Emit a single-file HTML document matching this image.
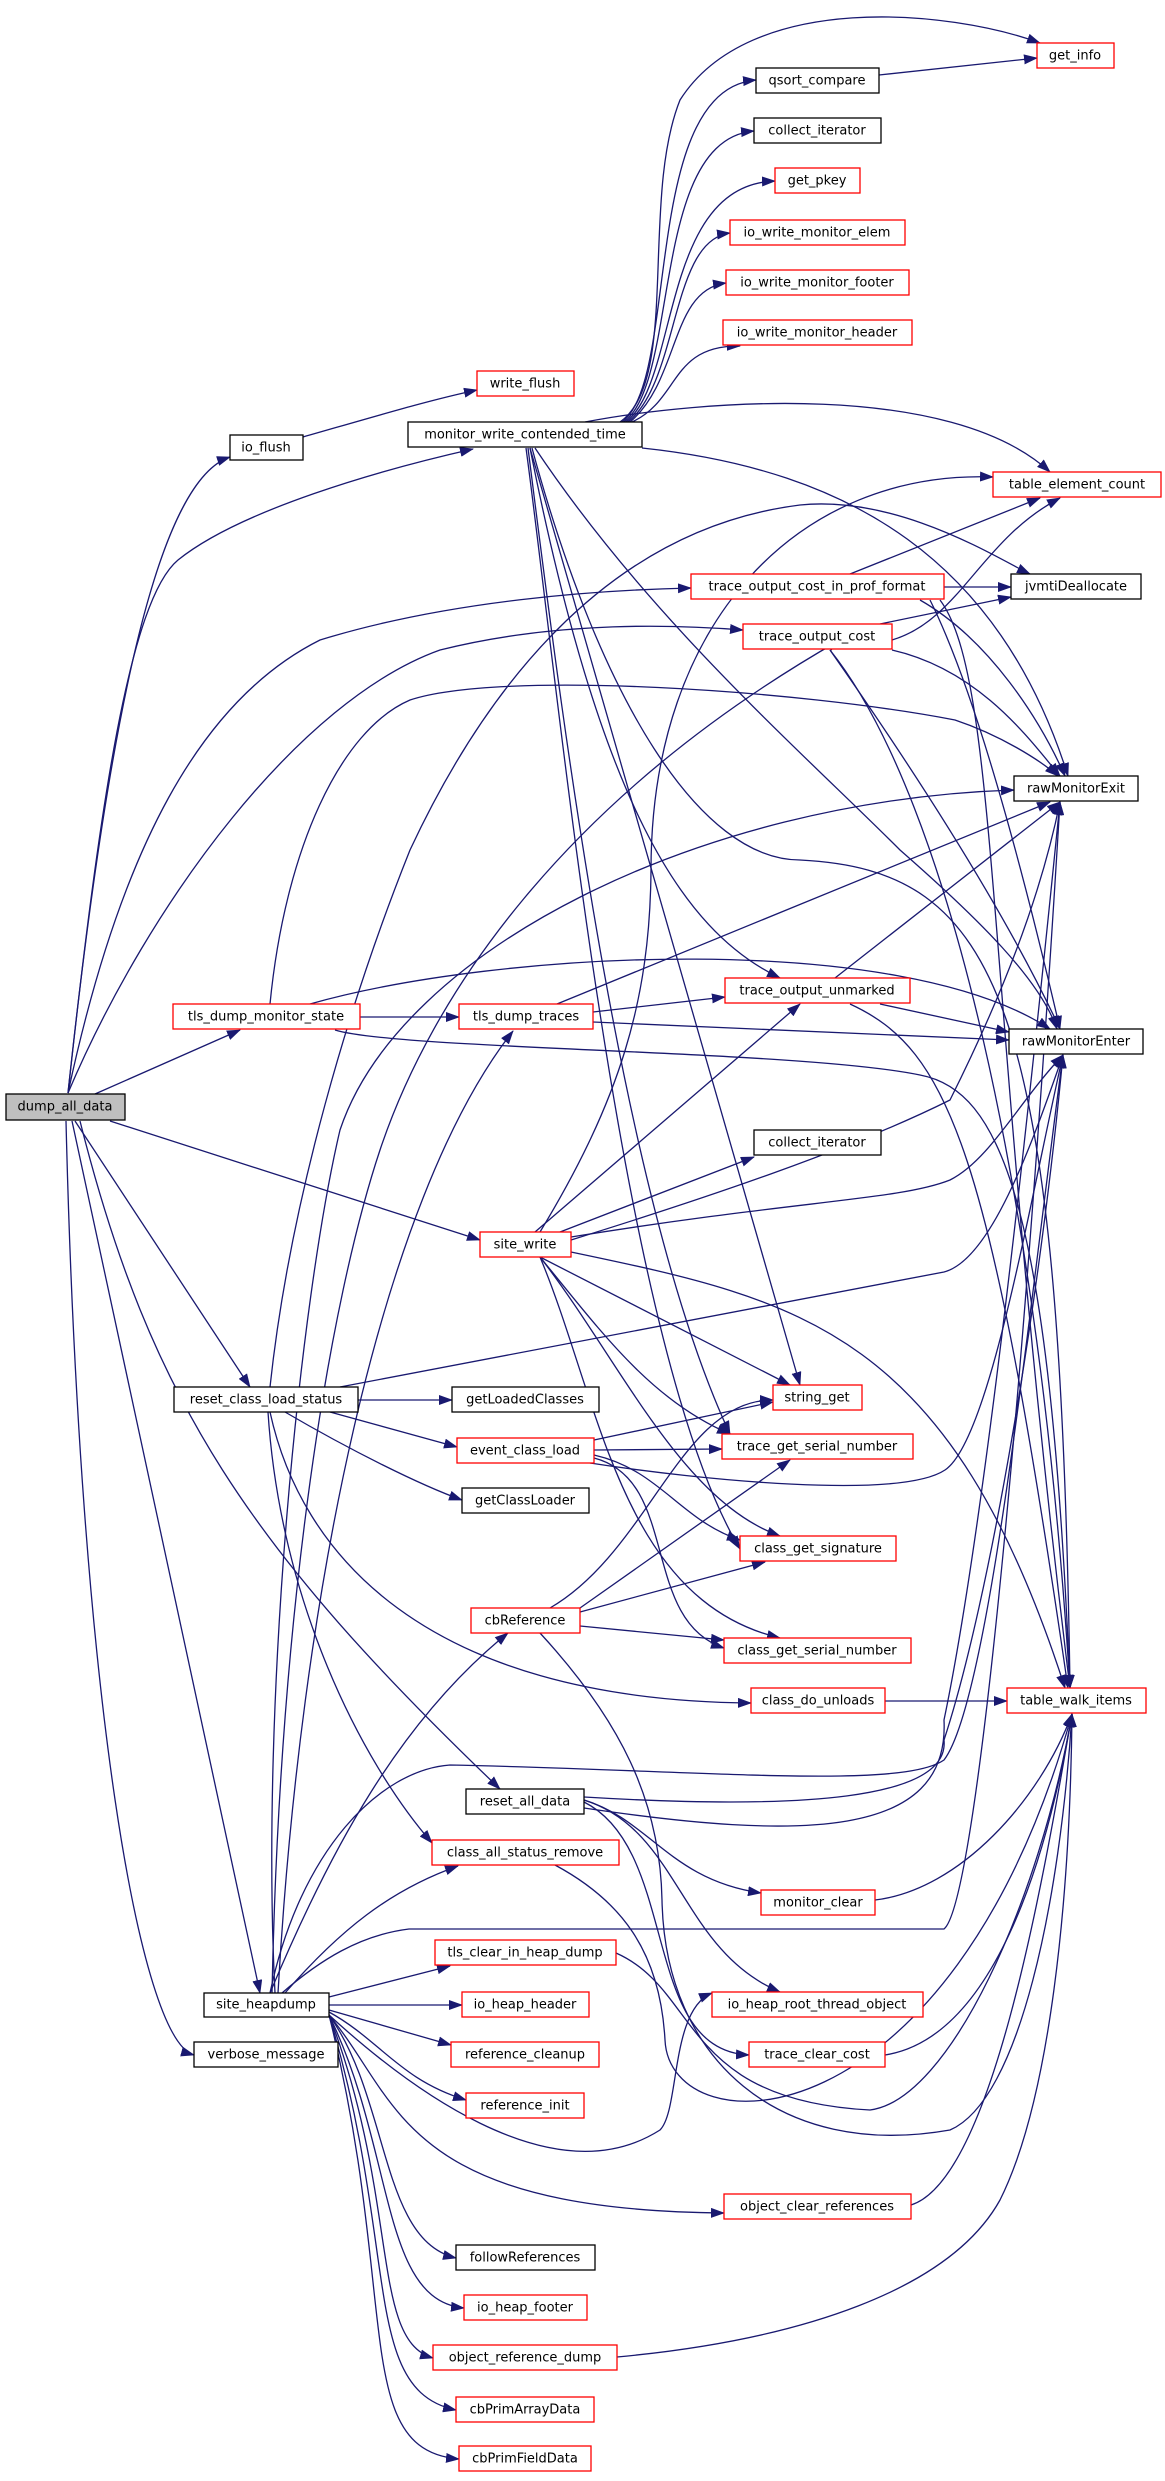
<!DOCTYPE html>
<html><head><meta charset="utf-8"><style>
html,body{margin:0;padding:0;background:#fff;}
svg{display:block;}
text{font-family:"DejaVu Sans","Liberation Sans",sans-serif;font-size:13px;fill:#000;text-anchor:middle;dominant-baseline:central;}
.e{fill:none;stroke:#191970;stroke-width:1.3;marker-end:url(#a);}
.r{fill:#fff;stroke:#ff0000;stroke-width:1.3;}
.b{fill:#fff;stroke:#000;stroke-width:1.3;}
</style></head><body>
<svg width="1165" height="2481" viewBox="0 0 1165 2481" xmlns="http://www.w3.org/2000/svg">
<defs><marker id="a" markerWidth="14" markerHeight="10" refX="13" refY="5" orient="auto" markerUnits="userSpaceOnUse"><path d="M0,0 L14,5 L0,10 z" fill="#191970"/></marker></defs>
<g>
<path class="e" d="M68,1093 C110,700 160,480 230,457"/>
<path class="e" d="M68,1093 C100,800 130,600 178,560 C240,510 380,470 473,449"/>
<path class="e" d="M68,1093 C120,850 200,700 320,640 C450,600 600,590 691,588"/>
<path class="e" d="M68,1093 C150,900 300,700 440,650 C560,620 680,625 743,630"/>
<path class="e" d="M95,1094 L240,1030"/>
<path class="e" d="M110,1121 L480,1240"/>
<path class="e" d="M75,1121 L250,1387"/>
<path class="e" d="M80,1121 C150,1400 250,1550 500,1789"/>
<path class="e" d="M72,1121 L260,1993"/>
<path class="e" d="M66,1121 C80,1700 140,2040 194,2055"/>
<path class="e" d="M303,437 C380,415 430,400 477,390"/>
<path class="e" d="M620,422 C680,380 640,200 680,100 C750,-10 950,10 1040,43"/>
<path class="e" d="M622,422 C680,380 640,90 756,80"/>
<path class="e" d="M624,422 C680,380 650,140 754,131"/>
<path class="e" d="M626,422 C680,380 660,185 775,181"/>
<path class="e" d="M628,422 C680,380 670,240 730,233"/>
<path class="e" d="M630,422 C680,380 670,290 726,283"/>
<path class="e" d="M632,422 C680,400 670,345 740,346"/>
<path class="e" d="M585,422 C700,400 950,380 1050,472"/>
<path class="e" d="M642,448 C850,470 1000,560 1068,776"/>
<path class="e" d="M535,448 C650,620 800,750 900,850 C980,920 1040,980 1057,1029"/>
<path class="e" d="M530,448 C600,800 680,930 780,978"/>
<path class="e" d="M530,448 L800,1385"/>
<path class="e" d="M528,448 C560,700 620,1200 730,1434"/>
<path class="e" d="M532,448 C600,700 700,860 800,860 C1000,870 1060,1000 1070,1688"/>
<path class="e" d="M526,448 C560,700 620,1350 740,1549"/>
<path class="e" d="M879,75 L1037,58"/>
<path class="e" d="M944,587 L1011,587"/>
<path class="e" d="M850,574 L1040,498"/>
<path class="e" d="M920,600 C990,640 1040,720 1065,776"/>
<path class="e" d="M930,600 C980,700 1030,900 1060,1029"/>
<path class="e" d="M940,600 C1000,680 985,1000 1070,1688"/>
<path class="e" d="M880,624 L1011,597"/>
<path class="e" d="M892,640 C960,620 980,540 1060,498"/>
<path class="e" d="M892,650 C980,670 1030,740 1060,776"/>
<path class="e" d="M830,650 C900,750 1000,900 1060,1029"/>
<path class="e" d="M830,650 C950,800 1040,1200 1070,1688"/>
<path class="e" d="M360,1017 L459,1017"/>
<path class="e" d="M310,1004 C500,950 900,930 1050,1029"/>
<path class="e" d="M270,1004 C285,850 340,730 410,700 C500,670 800,690 955,720 C1000,735 1040,760 1058,776"/>
<path class="e" d="M335,1030 C400,1050 800,1050 920,1075 C1000,1090 1050,1200 1070,1688"/>
<path class="e" d="M593,1012 L725,997"/>
<path class="e" d="M593,1022 L1009,1040"/>
<path class="e" d="M557,1004 L1050,802"/>
<path class="e" d="M835,978 L1060,802"/>
<path class="e" d="M880,1004 L1009,1032"/>
<path class="e" d="M850,1004 C950,1050 990,1150 1068,1688"/>
<path class="e" d="M560,1232 L754,1157"/>
<path class="e" d="M535,1232 L800,1004"/>
<path class="e" d="M571,1237 C800,1200 900,1200 950,1180 C990,1160 1020,1100 1063,1055"/>
<path class="e" d="M571,1240 C700,1200 850,1150 950,1100 C1000,1000 1040,900 1060,802"/>
<path class="e" d="M540,1257 L790,1385"/>
<path class="e" d="M540,1257 C600,1330 650,1400 730,1434"/>
<path class="e" d="M540,1257 C620,1360 680,1500 780,1536"/>
<path class="e" d="M540,1257 C600,1400 620,1600 780,1638"/>
<path class="e" d="M571,1252 C800,1300 950,1330 1065,1688"/>
<path class="e" d="M540,1232 C620,1100 650,1000 651,870 C651,620 800,470 993,477"/>
<path class="e" d="M270,1387 C290,1200 350,1000 410,850 C480,700 600,530 800,505 C900,495 1000,560 1030,574"/>
<path class="e" d="M340,1387 L944,1272 C990,1260 1030,1150 1063,1055"/>
<path class="e" d="M358,1400 L452,1400"/>
<path class="e" d="M330,1412 L457,1447"/>
<path class="e" d="M285,1412 C350,1450 420,1485 462,1500"/>
<path class="e" d="M270,1412 C300,1550 420,1700 751,1703"/>
<path class="e" d="M268,1412 C280,1600 360,1760 432,1843"/>
<path class="e" d="M594,1440 L773,1402"/>
<path class="e" d="M594,1450 L722,1449"/>
<path class="e" d="M594,1455 C660,1470 680,1520 740,1540"/>
<path class="e" d="M594,1458 C680,1480 640,1620 724,1648"/>
<path class="e" d="M590,1463 C700,1480 900,1500 945,1470 C990,1440 1030,1200 1063,1055"/>
<path class="e" d="M550,1608 C650,1550 680,1400 773,1400"/>
<path class="e" d="M580,1608 L790,1460"/>
<path class="e" d="M580,1612 L765,1562"/>
<path class="e" d="M580,1626 L724,1640"/>
<path class="e" d="M540,1633 C620,1720 660,1800 662,1900 C665,2060 780,2160 950,2130 C1020,2100 1060,1900 1072,1714"/>
<path class="e" d="M885,1701 L1007,1701"/>
<path class="e" d="M584,1797 C800,1810 950,1800 944,1740 C990,1600 1040,1300 1063,1055"/>
<path class="e" d="M584,1808 C800,1840 950,1840 944,1720 C990,1500 1040,1000 1060,802"/>
<path class="e" d="M584,1800 C650,1820 670,1880 761,1893"/>
<path class="e" d="M584,1800 C680,1830 680,1950 780,1992"/>
<path class="e" d="M584,1802 C680,1850 640,2050 749,2055"/>
<path class="e" d="M555,1865 C620,1900 660,1950 665,2040 C670,2150 950,2150 1072,1714"/>
<path class="e" d="M875,1900 C960,1890 1040,1800 1072,1714"/>
<path class="e" d="M616,1953 C700,1990 680,2100 870,2110 C950,2100 1040,1900 1072,1714"/>
<path class="e" d="M885,2055 C980,2040 1040,1900 1072,1714"/>
<path class="e" d="M911,2205 C990,2180 1040,1900 1072,1714"/>
<path class="e" d="M617,2357 C800,2340 950,2290 1000,2200 C1050,2100 1070,1900 1072,1714"/>
<path class="e" d="M270,1993 C330,1850 400,1720 508,1633"/>
<path class="e" d="M285,1993 C340,1930 390,1890 458,1866"/>
<path class="e" d="M329,1997 L450,1966"/>
<path class="e" d="M329,2005 L462,2005"/>
<path class="e" d="M329,2010 L451,2045"/>
<path class="e" d="M329,2012 C380,2040 400,2080 466,2100"/>
<path class="e" d="M329,2015 C400,2080 550,2200 660,2130 C680,2110 670,2010 712,1993"/>
<path class="e" d="M329,2015 C400,2100 400,2210 724,2213"/>
<path class="e" d="M329,2015 C390,2100 380,2240 456,2258"/>
<path class="e" d="M329,2015 C395,2150 380,2300 464,2308"/>
<path class="e" d="M329,2015 C400,2200 370,2340 433,2358"/>
<path class="e" d="M329,2015 C400,2250 360,2390 456,2410"/>
<path class="e" d="M329,2015 C400,2300 350,2450 459,2459"/>
<path class="e" d="M282,1993 C320,1960 360,1935 409,1929 L944,1929 C980,1900 1030,1300 1060,802"/>
<path class="e" d="M270,1993 C300,1850 380,1770 450,1765 C700,1770 900,1790 944,1760 C990,1700 1030,1300 1063,1055"/>
<path class="e" d="M275,1993 C260,1700 300,1300 340,1130 C400,950 700,800 1014,790"/>
<path class="e" d="M278,1993 C300,1600 380,1200 513,1031"/>
<path class="e" d="M272,1993 C280,1600 330,1300 380,1150 C430,1000 560,800 840,640"/>
</g>
<g>
<rect class="r" x="1037" y="43" width="77" height="25"/><text x="1075" y="56">get_info</text>
<rect class="b" x="756" y="68" width="123" height="25"/><text x="817" y="81">qsort_compare</text>
<rect class="b" x="754" y="118" width="127" height="25"/><text x="817" y="131">collect_iterator</text>
<rect class="r" x="775" y="168" width="85" height="25"/><text x="817" y="181">get_pkey</text>
<rect class="r" x="730" y="220" width="175" height="25"/><text x="817" y="233">io_write_monitor_elem</text>
<rect class="r" x="726" y="270" width="183" height="25"/><text x="817" y="283">io_write_monitor_footer</text>
<rect class="r" x="723" y="320" width="189" height="25"/><text x="817" y="333">io_write_monitor_header</text>
<rect class="r" x="477" y="371" width="97" height="25"/><text x="525" y="384">write_flush</text>
<rect class="b" x="230" y="435" width="73" height="25"/><text x="266" y="448">io_flush</text>
<rect class="b" x="408" y="422" width="234" height="25"/><text x="525" y="435">monitor_write_contended_time</text>
<rect class="r" x="993" y="472" width="168" height="25"/><text x="1077" y="485">table_element_count</text>
<rect class="b" x="1011" y="574" width="130" height="25"/><text x="1076" y="587">jvmtiDeallocate</text>
<rect class="r" x="691" y="574" width="253" height="25"/><text x="817" y="587">trace_output_cost_in_prof_format</text>
<rect class="r" x="743" y="624" width="149" height="25"/><text x="817" y="637">trace_output_cost</text>
<rect class="b" x="1014" y="776" width="124" height="25"/><text x="1076" y="789">rawMonitorExit</text>
<rect class="r" x="725" y="978" width="185" height="25"/><text x="817" y="991">trace_output_unmarked</text>
<rect class="r" x="173" y="1004" width="187" height="25"/><text x="266" y="1017">tls_dump_monitor_state</text>
<rect class="r" x="459" y="1004" width="134" height="25"/><text x="526" y="1017">tls_dump_traces</text>
<rect class="b" x="1009" y="1029" width="134" height="25"/><text x="1076" y="1042">rawMonitorEnter</text>
<rect x="6" y="1094" width="119" height="26" fill="#bfbfbf" stroke="#000" stroke-width="1.3"/><text x="65" y="1107">dump_all_data</text>
<rect class="b" x="754" y="1130" width="127" height="25"/><text x="817" y="1143">collect_iterator</text>
<rect class="r" x="480" y="1232" width="91" height="25"/><text x="525" y="1245">site_write</text>
<rect class="b" x="174" y="1387" width="184" height="25"/><text x="266" y="1400">reset_class_load_status</text>
<rect class="b" x="452" y="1387" width="147" height="25"/><text x="525" y="1400">getLoadedClasses</text>
<rect class="r" x="773" y="1385" width="89" height="25"/><text x="817" y="1398">string_get</text>
<rect class="r" x="457" y="1438" width="137" height="25"/><text x="525" y="1451">event_class_load</text>
<rect class="r" x="722" y="1434" width="191" height="25"/><text x="817" y="1447">trace_get_serial_number</text>
<rect class="b" x="462" y="1488" width="127" height="25"/><text x="525" y="1501">getClassLoader</text>
<rect class="r" x="740" y="1536" width="156" height="25"/><text x="818" y="1549">class_get_signature</text>
<rect class="r" x="471" y="1608" width="109" height="25"/><text x="525" y="1621">cbReference</text>
<rect class="r" x="724" y="1638" width="187" height="25"/><text x="817" y="1651">class_get_serial_number</text>
<rect class="r" x="751" y="1688" width="134" height="25"/><text x="818" y="1701">class_do_unloads</text>
<rect class="r" x="1007" y="1688" width="139" height="25"/><text x="1076" y="1701">table_walk_items</text>
<rect class="b" x="466" y="1789" width="118" height="25"/><text x="525" y="1802">reset_all_data</text>
<rect class="r" x="432" y="1840" width="187" height="25"/><text x="525" y="1853">class_all_status_remove</text>
<rect class="r" x="761" y="1890" width="114" height="25"/><text x="818" y="1903">monitor_clear</text>
<rect class="r" x="435" y="1940" width="181" height="25"/><text x="525" y="1953">tls_clear_in_heap_dump</text>
<rect class="b" x="204" y="1993" width="125" height="24"/><text x="266" y="2005">site_heapdump</text>
<rect class="r" x="462" y="1992" width="127" height="25"/><text x="525" y="2005">io_heap_header</text>
<rect class="r" x="712" y="1992" width="211" height="25"/><text x="817" y="2005">io_heap_root_thread_object</text>
<rect class="b" x="194" y="2042" width="144" height="25"/><text x="266" y="2055">verbose_message</text>
<rect class="r" x="451" y="2042" width="148" height="25"/><text x="525" y="2055">reference_cleanup</text>
<rect class="r" x="749" y="2042" width="136" height="25"/><text x="817" y="2055">trace_clear_cost</text>
<rect class="r" x="466" y="2093" width="118" height="25"/><text x="525" y="2106">reference_init</text>
<rect class="r" x="724" y="2194" width="187" height="25"/><text x="817" y="2207">object_clear_references</text>
<rect class="b" x="456" y="2245" width="139" height="25"/><text x="525" y="2258">followReferences</text>
<rect class="r" x="464" y="2295" width="123" height="25"/><text x="525" y="2308">io_heap_footer</text>
<rect class="r" x="433" y="2345" width="184" height="25"/><text x="525" y="2358">object_reference_dump</text>
<rect class="r" x="456" y="2397" width="138" height="25"/><text x="525" y="2410">cbPrimArrayData</text>
<rect class="r" x="459" y="2446" width="132" height="25"/><text x="525" y="2459">cbPrimFieldData</text>
</g>
</svg>
</body></html>
